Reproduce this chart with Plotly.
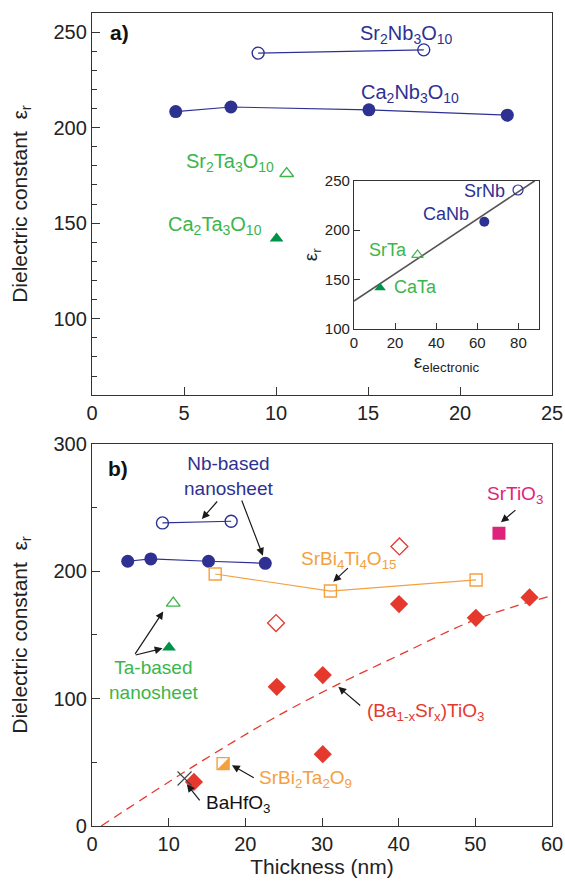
import plotly.graph_objects as go

# ---------------- data: panel a ----------------
a_srnb_t = [9.03, 18.03]
a_srnb_e = [239.0, 240.7]
a_canb_t = [4.55, 7.55, 15.05, 22.57]
a_canb_e = [208.4, 210.8, 209.3, 206.5]
a_srta_t = [10.58]
a_srta_e = [176.0]
a_cata_t = [10.03]
a_cata_e = [142.0]

# inset
inset_names = ["SrNb", "CaNb", "SrTa", "CaTa"]
inset_elec = [79.8, 63.4, 30.9, 12.7]
inset_er = [240.6, 208.5, 174.8, 141.4]
inset_fit_x = [0, 88]
inset_fit_y = [128, 250]

# ---------------- data: panel b ----------------
b_nb_open_t = [9.19, 18.15]
b_nb_open_e = [238.0, 239.3]
b_nb_fill_t = [4.66, 7.67, 15.2, 22.6]
b_nb_fill_e = [207.9, 209.7, 207.9, 206.3]
b_ta_open_t = [10.6]
b_ta_open_e = [175.0]
b_ta_fill_t = [10.05]
b_ta_fill_e = [140.2]
sbti_t = [16.07, 31.1, 50.1]          # SrBi4Ti4O15
sbti_e = [197.9, 184.5, 193.2]
bst_open_t = [40.1, 24.0]             # (Ba,Sr)TiO3 open
bst_open_e = [219.5, 159.4]
bst_fill_t = [13.3, 24.1, 30.1, 30.1, 40.05, 50.07, 57.07]
bst_fill_e = [34.6, 109.3, 118.5, 56.4, 174.3, 163.5, 179.5]
sto_t = [53.08]                       # SrTiO3
sto_e = [229.9]
sbt_t = [17.1]                        # SrBi2Ta2O9
sbt_e = [49.0]
bhf_t = [12.07]                       # BaHfO3
bhf_e = [37.3]
fit_t = [1.2, 13, 23.5, 31, 40, 50, 60]
fit_e = [0, 46, 84, 108, 134, 162, 181]

NAVY = "#2e3192"
GREEN = "#3cb54a"
GREEN_D = "#00924a"
ORANGE = "#f4a040"
RED = "#e5392e"
MAG = "#e0237a"
AX = "#333333"
FONT = "Liberation Sans, Arial, sans-serif"

fig = go.Figure()

def sc(x, y, xa, ya, mode="markers", **kw):
    fig.add_trace(go.Scatter(x=x, y=y, mode=mode, xaxis=xa, yaxis=ya,
                             hoverinfo="skip", showlegend=False, **kw))

# panel a
sc(a_srnb_t, a_srnb_e, "x", "y", mode="lines+markers",
   line=dict(color=NAVY, width=1.2),
   marker=dict(symbol="circle-open", size=12, color=NAVY, line=dict(width=1.4)))
sc(a_canb_t, a_canb_e, "x", "y", mode="lines+markers",
   line=dict(color=NAVY, width=1.2),
   marker=dict(symbol="circle", size=13, color=NAVY))
sc(a_srta_t, a_srta_e, "x", "y",
   marker=dict(symbol="triangle-up-open", size=12, color=GREEN, line=dict(width=1.3)))
sc(a_cata_t, a_cata_e, "x", "y",
   marker=dict(symbol="triangle-up", size=12, color=GREEN_D))

# inset
sc(inset_fit_x, inset_fit_y, "x3", "y3", mode="lines", line=dict(color="#555555", width=1.6))
sc(inset_elec[0:1], inset_er[0:1], "x3", "y3",
   marker=dict(symbol="circle-open", size=10, color=NAVY, line=dict(width=1.2)))
sc(inset_elec[1:2], inset_er[1:2], "x3", "y3",
   marker=dict(symbol="circle", size=10, color=NAVY))
sc(inset_elec[2:3], inset_er[2:3], "x3", "y3",
   marker=dict(symbol="triangle-up-open", size=10, color=GREEN, line=dict(width=1.2)))
sc(inset_elec[3:4], inset_er[3:4], "x3", "y3",
   marker=dict(symbol="triangle-up", size=10, color=GREEN_D))

# panel b
sc(fit_t, fit_e, "x2", "y2", mode="lines",
   line=dict(color=RED, width=1.3, dash="9px,6px", shape="spline"))
sc(b_nb_open_t, b_nb_open_e, "x2", "y2", mode="lines+markers",
   line=dict(color=NAVY, width=1.2),
   marker=dict(symbol="circle-open", size=12, color=NAVY, line=dict(width=1.4)))
sc(b_nb_fill_t, b_nb_fill_e, "x2", "y2", mode="lines+markers",
   line=dict(color=NAVY, width=1.2),
   marker=dict(symbol="circle", size=13, color=NAVY))
sc(b_ta_open_t, b_ta_open_e, "x2", "y2",
   marker=dict(symbol="triangle-up-open", size=12, color=GREEN, line=dict(width=1.3)))
sc(b_ta_fill_t, b_ta_fill_e, "x2", "y2",
   marker=dict(symbol="triangle-up", size=12, color=GREEN_D))
sc(sbti_t, sbti_e, "x2", "y2", mode="lines+markers",
   line=dict(color=ORANGE, width=1.2),
   marker=dict(symbol="square-open", size=12, color=ORANGE, line=dict(width=1.4)))
sc(bst_open_t, bst_open_e, "x2", "y2",
   marker=dict(symbol="diamond-open", size=13, color=RED, line=dict(width=1.3)))
sc(bst_fill_t, bst_fill_e, "x2", "y2",
   marker=dict(symbol="diamond", size=14, color=RED))
sc(sto_t, sto_e, "x2", "y2",
   marker=dict(symbol="square", size=13, color=MAG))
sc(sbt_t, sbt_e, "x2", "y2",
   marker=dict(symbol="square-open", size=12, color=ORANGE, line=dict(width=1.4)))
sc(bhf_t, bhf_e, "x2", "y2",
   marker=dict(symbol="x-thin", size=14, color="#222222", line=dict(width=1.2)))

# half-filled square for SrBi2Ta2O9 (pixel-sized shape anchored on data point)
fig.add_shape(type="path", xref="x2", yref="y2", xsizemode="pixel", ysizemode="pixel",
              xanchor=sbt_t[0], yanchor=sbt_e[0],
              path="M 6 6 L 6 -6 L -6 -6 Z", fillcolor=ORANGE, line=dict(width=0))

# ---------------- axes ----------------
common = dict(showline=True, mirror=True, linecolor=AX, linewidth=1.3, automargin=False,
              showgrid=False, zeroline=False, ticks="inside", tickcolor=AX,
              ticklen=8, tickwidth=1.2, tickfont=dict(size=20, color="#222222", family=FONT))
inset_common = dict(showline=True, mirror=True, linecolor=AX, linewidth=1.3, showgrid=False,
                    zeroline=False, ticks="inside", ticklen=6, tickcolor=AX, automargin=False,
                    tickfont=dict(size=15, family=FONT, color="#222222"))

fig.update_layout(
    width=565, height=884,
    margin=dict(l=92, r=13, t=13, b=58),
    paper_bgcolor="white", plot_bgcolor="white",
    showlegend=False,
    font=dict(family=FONT, color="#222222"),
    xaxis=dict(domain=[0, 1], anchor="y", range=[0, 25], tickvals=[0, 5, 10, 15, 20, 25], **common),
    yaxis=dict(domain=[0.530, 1.0], anchor="x", range=[60, 260], tickvals=[100, 150, 200, 250],
               minor=dict(dtick=10, tick0=0, ticks="inside", ticklen=5, tickcolor=AX),
               title=dict(text="Dielectric constant  ε<sub>r</sub>", font=dict(size=21), standoff=20),
               **common),
    xaxis2=dict(domain=[0, 1], anchor="y2", range=[0, 60], tickvals=[0, 10, 20, 30, 40, 50, 60],
                title=dict(text="Thickness (nm)", font=dict(size=21), standoff=4), **common),
    yaxis2=dict(domain=[0, 0.4699], anchor="x2", range=[0, 300], tickvals=[0, 100, 200, 300],
                minor=dict(dtick=50, tick0=0, ticks="inside", ticklen=5, tickcolor=AX),
                title=dict(text="Dielectric constant  ε<sub>r</sub>", font=dict(size=21), standoff=20),
                **common),
    xaxis3=dict(domain=[0.5696, 0.9717], anchor="y3", range=[0, 90], tickvals=[0, 20, 40, 60, 80],
                title=dict(text="ε<sub>electronic</sub>", font=dict(size=19), standoff=2),
                **inset_common),
    yaxis3=dict(domain=[0.6117, 0.7937], anchor="x3", range=[100, 250], tickvals=[100, 150, 200, 250],
                title=dict(text="ε<sub>r</sub>", font=dict(size=19), standoff=2),
                **inset_common),
)

# ---------------- text annotations ----------------
def txt(text, x, y, xr, yr, color, size=20, bold=False, xanchor="center"):
    fig.add_annotation(text=("<b>%s</b>" % text) if bold else text, x=x, y=y, xref=xr, yref=yr,
                       showarrow=False, xanchor=xanchor, yanchor="middle",
                       font=dict(size=size, color=color, family=FONT))

txt("a)", 1.5, 250, "x", "y", "#111111", size=21, bold=True)
txt("Sr<sub>2</sub>Nb<sub>3</sub>O<sub>10</sub>", 17.1, 249, "x", "y", NAVY)
txt("Ca<sub>2</sub>Nb<sub>3</sub>O<sub>10</sub>", 17.27, 218, "x", "y", NAVY)
txt("Sr<sub>2</sub>Ta<sub>3</sub>O<sub>10</sub>", 7.5, 181.5, "x", "y", GREEN)
txt("Ca<sub>2</sub>Ta<sub>3</sub>O<sub>10</sub>", 6.71, 149, "x", "y", GREEN)

txt("SrNb", 74.5, 239.5, "x3", "y3", NAVY, size=18, xanchor="right")
txt("CaNb", 44.9, 216.3, "x3", "y3", NAVY, size=18)
txt("SrTa", 16.7, 179.3, "x3", "y3", GREEN, size=18)
txt("CaTa", 29.8, 141.9, "x3", "y3", GREEN, size=18)

txt("b)", 3.45, 280.6, "x2", "y2", "#111111", size=21, bold=True)
txt("Nb-based<br>nanosheet", 17.8, 275, "x2", "y2", NAVY, size=19)
txt("Ta-based<br>nanosheet", 8.0, 115, "x2", "y2", GREEN, size=19)
txt("SrBi<sub>4</sub>Ti<sub>4</sub>O<sub>15</sub>", 33.4, 209, "x2", "y2", ORANGE, size=19)
txt("(Ba<sub>1-x</sub>Sr<sub>x</sub>)TiO<sub>3</sub>", 43.45, 89.5, "x2", "y2", RED, size=19)
txt("SrBi<sub>2</sub>Ta<sub>2</sub>O<sub>9</sub>", 27.9, 37, "x2", "y2", ORANGE, size=19)
txt("BaHfO<sub>3</sub>", 19.0, 17, "x2", "y2", "#111111", size=19)
txt("SrTiO<sub>3</sub>", 55.2, 260, "x2", "y2", MAG, size=19)

# arrows: head (x,y), tail (ax,ay)
arrow_head_t = [14.33, 22.29, 9.29, 9.2, 31.47, 32.13, 18.25, 12.37, 53.34]
arrow_head_e = [241.1, 212.3, 168.5, 139.5, 191.8, 109.3, 47.7, 32.8, 238.5]
arrow_tail_t = [16.5, 19.46, 5.5, 5.5, 33.57, 35.18, 21.3, 14.2, 55.43]
arrow_tail_e = [256.0, 256.8, 134.0, 134.0, 203.6, 93.6, 37.2, 18.9, 249.0]
for hx, hy, tx, ty in zip(arrow_head_t, arrow_head_e, arrow_tail_t, arrow_tail_e):
    fig.add_annotation(text="", x=hx, y=hy, ax=tx, ay=ty, xref="x2", yref="y2",
                       axref="x2", ayref="y2", showarrow=True, arrowhead=2, arrowsize=1.3,
                       arrowwidth=1.2, arrowcolor="#1a1a1a", standoff=0, startstandoff=0)

fig.write_html("out.html", config={"displayModeBar": False},
               post_script="document.body.style.margin='0';")
